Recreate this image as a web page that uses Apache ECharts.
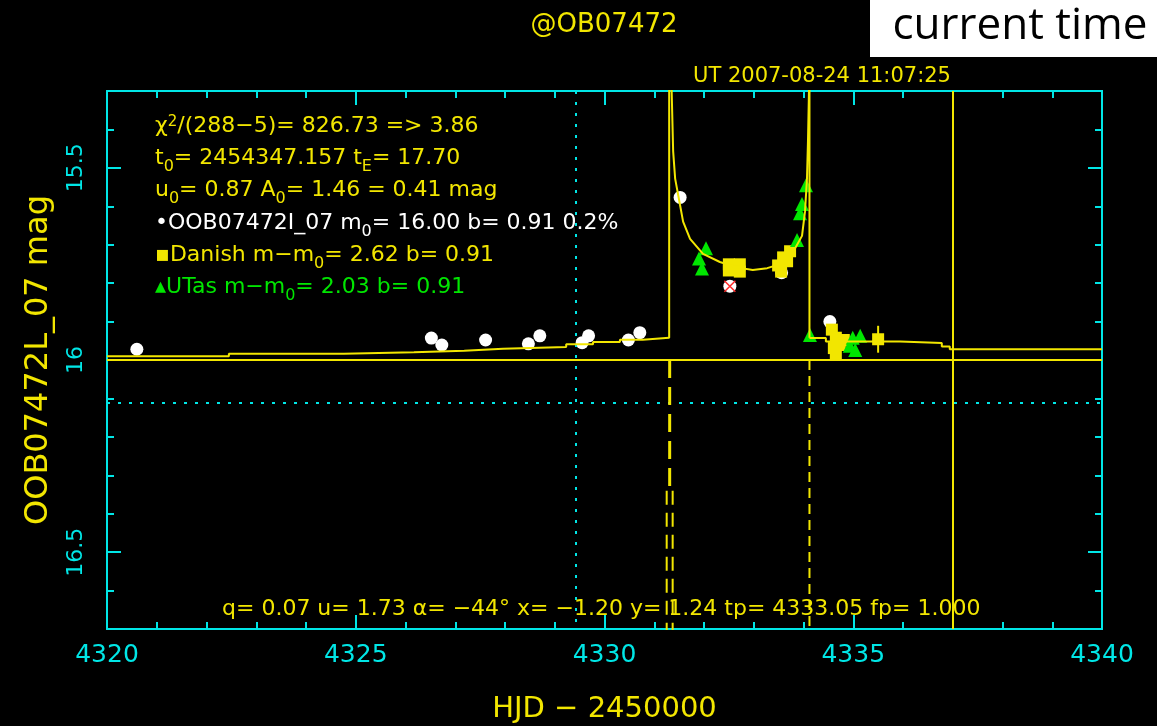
<!DOCTYPE html>
<html>
<head>
<meta charset="utf-8">
<script src="https://cdn.jsdelivr.net/npm/echarts@6/dist/echarts.min.js"></script>
<style>
html, body { margin: 0; padding: 0; background: #000; }
#main { width: 1157px; height: 726px; }
</style>
</head>
<body>
<div id="main"></div>
<script>
// axes
var xRange = [4320, 4340];
var xTickStep = 5;
var yRange = [15.3, 16.7];
var yMajor = [15.5, 16, 16.5];
var yMinorStep = 0.1;

// reference lines
var baseMag = 16.00;
var nowTime = 4337.0;
var crossTime = 4329.43;
var crossMag = 16.105;

// OGLE I (white circles)
var ogleT = [4320.60, 4326.52, 4326.73, 4327.61, 4328.47, 4328.70, 4329.55, 4329.68, 4330.48, 4330.71,
             4331.52, 4332.52, 4333.56, 4334.53];
var ogleM = [15.972, 15.943, 15.961, 15.948, 15.958, 15.937, 15.955, 15.937, 15.948, 15.929,
             15.577, 15.808, 15.773, 15.900];
var badT = [4332.52];
var badM = [15.808];

// Danish (yellow squares)
var danT = [4332.50, 4332.72, 4332.50, 4332.72, 4333.73, 4333.59, 4333.49, 4333.55, 4333.67,
            4334.57, 4334.65, 4334.61, 4334.73, 4334.65, 4334.81, 4335.50];
var danM = [15.751, 15.751, 15.767, 15.770, 15.717, 15.733, 15.754, 15.770, 15.743,
            15.921, 15.942, 15.969, 15.961, 15.984, 15.948, 15.946];
var errT = [4335.50];
var errM = [15.946];
var errE = [0.035];

// UTas (green triangles)
var utT = [4332.04, 4331.90, 4331.96, 4334.05, 4333.97, 4333.93, 4333.87,
           4334.13, 4334.99, 4335.14, 4335.04, 4334.93];
var utM = [15.709, 15.736, 15.762, 15.545, 15.594, 15.618, 15.688,
           15.935, 15.942, 15.937, 15.974, 15.963];

// model light curve
var preT = [4320.0, 4322.45, 4324.76, 4326.17, 4327.18, 4327.96, 4329.23, 4329.77, 4330.31, 4330.77, 4331.30];
var preM = [15.990, 15.984, 15.980, 15.976, 15.971, 15.966, 15.959, 15.953, 15.947, 15.942, 15.940];
var causT = [4331.30, 4331.30, 4331.35, 4331.38, 4331.42, 4331.52, 4331.58, 4331.72, 4331.98, 4332.32, 4332.66,
             4332.98, 4333.27, 4333.53, 4333.79, 4333.97, 4334.03, 4334.07, 4334.09, 4334.11, 4334.12, 4334.12];
var causM = [15.940, 15.25, 15.30, 15.457, 15.528, 15.598, 15.640, 15.685, 15.724, 15.745, 15.759,
             15.766, 15.761, 15.751, 15.719, 15.677, 15.614, 15.528, 15.430, 15.30, 15.25, 15.942];
var postT = [4334.12, 4334.45, 4335.94, 4336.78, 4336.94, 4340.0];
var postM = [15.943, 15.952, 15.956, 15.965, 15.972, 15.972];

// dashed caustic traces below the baseline
var dashAT = [4331.31, 4331.31];
var dashAM = [16.0, 16.34];
var dashBT = [4331.25, 4331.25];
var dashCT = [4331.37, 4331.37];
var dashBM = [16.34, 16.705];
var dashRT = [4334.12, 4334.12];
var dashRM = [16.0, 16.705];

var F = "'DejaVu Sans', sans-serif";
var CYAN = '#00e6e6';
var YEL = '#f2e600';
var GRN = '#00e600';
var WHITE = '#ffffff';

function pairs(t, m) {
    return t.map(function (v, i) { return [v, m[i]]; });
}

function rich(color, size) {
    return {
        n: { color: color, fontFamily: F, fontSize: size, lineHeight: 26, verticalAlign: 'top' },
        s: { color: color, fontFamily: F, fontSize: 16, lineHeight: 16, padding: [12, 0, 0, 0], verticalAlign: 'top' },
        p: { color: color, fontFamily: F, fontSize: 15, lineHeight: 15, verticalAlign: 'top' }
    };
}

function note(text, top, color, left, size) {
    size = size || 22;
    return {
        text: text, left: left || 155, top: top, padding: 0,
        textStyle: { color: color, fontFamily: F, fontSize: size, fontWeight: 'normal', rich: rich(color, size) }
    };
}

function xAx(pos) {
    return {
        type: 'value', position: pos, min: xRange[0], max: xRange[1], interval: xTickStep,
        axisLine: { onZero: false, lineStyle: { color: CYAN, width: 2 } },
        axisTick: { inside: true, length: 14, lineStyle: { color: CYAN, width: 2 } },
        minorTick: { show: true, splitNumber: 5, length: 7, lineStyle: { color: CYAN, width: 2 } },
        splitLine: { show: false },
        axisLabel: { show: pos === 'bottom', color: CYAN, fontFamily: F, fontSize: 25, margin: 14,
                     formatter: function (v) { return String(v); } },
        name: pos === 'bottom' ? 'HJD \u2212 2450000' : '',
        nameLocation: 'middle', nameGap: 66,
        nameTextStyle: { color: YEL, fontFamily: F, fontSize: 29 }
    };
}

function yAx(pos, major) {
    var a = {
        type: 'value', position: pos, inverse: true, min: yRange[0], max: yRange[1],
        axisLine: { onZero: false, lineStyle: { color: CYAN, width: 2 } },
        splitLine: { show: false },
        axisLabel: { show: false }
    };
    if (major) {
        a.axisTick = { inside: true, length: 14, customValues: yMajor, lineStyle: { color: CYAN, width: 2 } };
        if (pos === 'left') {
            a.axisLabel = { show: true, customValues: yMajor, rotate: 90, color: CYAN, fontFamily: F, fontSize: 22, margin: 20 };
            a.name = 'OOB07472L_07 mag';
            a.nameLocation = 'middle';
            a.nameRotate = 90;
            a.nameGap = 52;
            a.nameTextStyle = { color: YEL, fontFamily: F, fontSize: 32 };
        }
    } else {
        a.interval = yMinorStep;
        a.axisTick = { inside: true, length: 7, lineStyle: { color: CYAN, width: 2 } };
    }
    return a;
}

function curve(t, m, extra) {
    var s = {
        type: 'line', data: pairs(t, m), symbol: 'none', z: 5, silent: true,
        lineStyle: { color: YEL, width: 2 }
    };
    for (var k in extra) s[k] = extra[k];
    return s;
}

var myChart = echarts.init(document.getElementById('main'));
var option = {
    backgroundColor: '#000',
    animation: false,
    title: [
        { text: '@OB07472', left: 604, top: 12, padding: 0, textAlign: 'center',
          textStyle: { color: YEL, fontFamily: F, fontSize: 26, fontWeight: 'normal' } },
        { text: 'UT 2007-08-24 11:07:25', left: 822, top: 66, padding: 0, textAlign: 'center',
          textStyle: { color: YEL, fontFamily: F, fontSize: 21, fontWeight: 'normal' } },
        note('{n|\u03c7}{p|2}{n|/(288\u22125)= 826.73 => 3.86}', 115, YEL),
        note('{n|t}{s|0}{n|= 2454347.157 t}{s|E}{n|= 17.70}', 147, YEL),
        note('{n|u}{s|0}{n|= 0.87 A}{s|0}{n|= 1.46 = 0.41 mag}', 179, YEL),
        note('{n|\u2022OOB07472I_07 m}{s|0}{n|= 16.00 b= 0.91 0.2%}', 212, WHITE),
        note('{n|\u25aaDanish m\u2212m}{s|0}{n|= 2.62 b= 0.91}', 244, YEL),
        note('{n|\u25b4UTas m\u2212m}{s|0}{n|= 2.03 b= 0.91}', 276, GRN),
        note('{n|q= 0.07 u= 1.73 \u03b1= \u221244\u00b0 x= \u22121.20 y= 1.24 tp= 4333.05 fp= 1.000}', 598, YEL, 222, 22)
    ],
    graphic: [
        { type: 'rect', shape: { x: 870, y: 0, width: 287, height: 57 }, style: { fill: '#fff' } },
        { type: 'text', style: { text: 'current time', x: 1020, y: 26, align: 'center', verticalAlign: 'middle',
          textAlign: 'center', textVerticalAlign: 'middle', font: "44px 'Open Sans'", fill: '#000' } }
    ],
    grid: { left: 107, right: 55, top: 91, bottom: 97, containLabel: false, outerBoundsMode: 'none' },
    xAxis: [xAx('bottom'), xAx('top')],
    yAxis: [yAx('left', true), yAx('left', false), yAx('right', true), yAx('right', false)],
    series: [
        {
            type: 'line', data: [], silent: true,
            markLine: {
                symbol: ['none', 'none'], silent: true, label: { show: false },
                lineStyle: { color: YEL, width: 2, type: 'solid' },
                data: [
                    { yAxis: baseMag },
                    { xAxis: nowTime },
                    { xAxis: crossTime, lineStyle: { color: CYAN, width: 2, type: [3, 8] } },
                    { yAxis: crossMag, lineStyle: { color: CYAN, width: 2, type: [3, 8] } }
                ]
            }
        },
        { type: 'scatter', data: pairs(ogleT, ogleM), symbol: 'circle', symbolSize: 13, z: 3,
          itemStyle: { color: WHITE, opacity: 1 } },
        { type: 'scatter', data: pairs(danT, danM), symbol: 'rect', symbolSize: 12, z: 3,
          itemStyle: { color: YEL, opacity: 1 } },
        { type: 'scatter', data: pairs(utT, utM), symbol: 'triangle', symbolSize: 14, z: 3,
          itemStyle: { color: GRN, opacity: 1 } },
        { type: 'scatter', data: pairs(badT, badM), symbol: 'path://M0,0L10,10M10,0L0,10', symbolSize: 11, z: 4,
          itemStyle: { color: 'none', borderColor: '#ff2a2a', borderWidth: 1.5, opacity: 1 } },
        curve([errT[0], errT[0]], [errM[0] - errE[0], errM[0] + errE[0]], {}),
        curve(preT, preM, { step: 'end' }),
        curve(causT, causM, {}),
        curve(postT, postM, { step: 'end' }),
        curve(dashAT, dashAM, { lineStyle: { color: YEL, width: 3, type: [18, 9] } }),
        curve(dashBT, dashBM, { lineStyle: { color: YEL, width: 2, type: [14, 8] } }),
        curve(dashCT, dashBM, { lineStyle: { color: YEL, width: 2, type: [14, 8] } }),
        curve(dashRT, dashRM, { lineStyle: { color: YEL, width: 2, type: [10, 6] } })
    ]
};
myChart.setOption(option);
</script>
</body>
</html>
